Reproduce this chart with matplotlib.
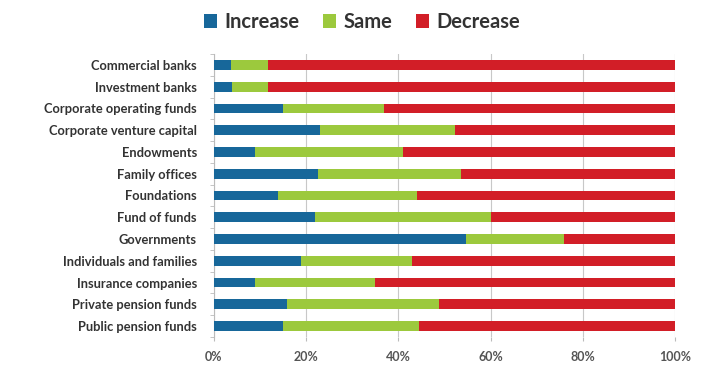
import numpy as np
import matplotlib
matplotlib.use('Agg')
from matplotlib import pyplot as plt
from matplotlib.patches import Patch

# categories, top to bottom
categories = ['Commercial banks', 'Investment banks', 'Corporate operating funds',
              'Corporate venture capital', 'Endowments', 'Family offices',
              'Foundations', 'Fund of funds', 'Governments',
              'Individuals and families', 'Insurance companies',
              'Private pension funds', 'Public pension funds']

# shares in percent
increase = [3.8, 4.0, 15.0, 23.1, 9.0, 22.7, 13.9, 22.0, 54.6, 19.0, 9.0, 16.0, 15.0]
same = [8.1, 7.9, 21.9, 29.1, 32.0, 30.8, 30.1, 38.0, 21.2, 23.9, 26.0, 32.9, 29.4]
decrease = [100 - a - b for a, b in zip(increase, same)]

series_names = ['Increase', 'Same', 'Decrease']
colors = ['#17679a', '#9cc93d', '#d21e27']

plt.rcParams['font.family'] = ['Lato', 'DejaVu Sans']

fig = plt.figure(figsize=(7.14, 3.65), dpi=100)
ax = fig.add_axes([213.5 / 714, 1 - 337 / 365, (675.3 - 213.5) / 714, (337 - 54) / 365])

y = np.arange(len(categories))
h = 0.45
left = np.zeros(len(categories))
for vals, col in zip([increase, same, decrease], colors):
    ax.barh(y, vals, left=left, height=h, color=col, zorder=3)
    left += np.array(vals)

ax.set_ylim(len(categories) - 0.5, -0.5)
ax.set_xlim(0, 100)
ax.set_yticks(y)
ax.set_yticklabels(categories, fontsize=9.3, fontweight='bold', color='#333333')
ax.set_yticks(np.arange(-0.5, len(categories), 1), minor=True)
ax.tick_params(axis='y', which='major', length=0, pad=12)
ax.tick_params(axis='y', which='minor', length=3, color='#bbbbbb')

xt = [0, 20, 40, 60, 80, 100]
ax.set_xticks(xt)
ax.set_xticklabels([f'{v}%' for v in xt], fontsize=9, fontweight='bold', color='#555555')
ax.tick_params(axis='x', length=3, color='#bbbbbb', pad=7)
ax.grid(axis='x', color='#c8c8c8', linewidth=0.8, zorder=0)

for s in ['top', 'right', 'bottom']:
    ax.spines[s].set_visible(False)
ax.spines['left'].set_color('#bbbbbb')
ax.spines['left'].set_linewidth(0.8)

handles = [Patch(facecolor=c, label=n) for n, c in zip(series_names, colors)]
fig.legend(handles=handles, loc='center', bbox_to_anchor=(362 / 714, 1 - 22 / 365),
           ncol=3, frameon=False, handlelength=0.65, handleheight=0.65,
           handletextpad=0.35, columnspacing=1.2,
           prop={'size': 14.5, 'weight': 'bold'}, labelcolor='#333333')

fig.savefig('out.png', dpi=100)
